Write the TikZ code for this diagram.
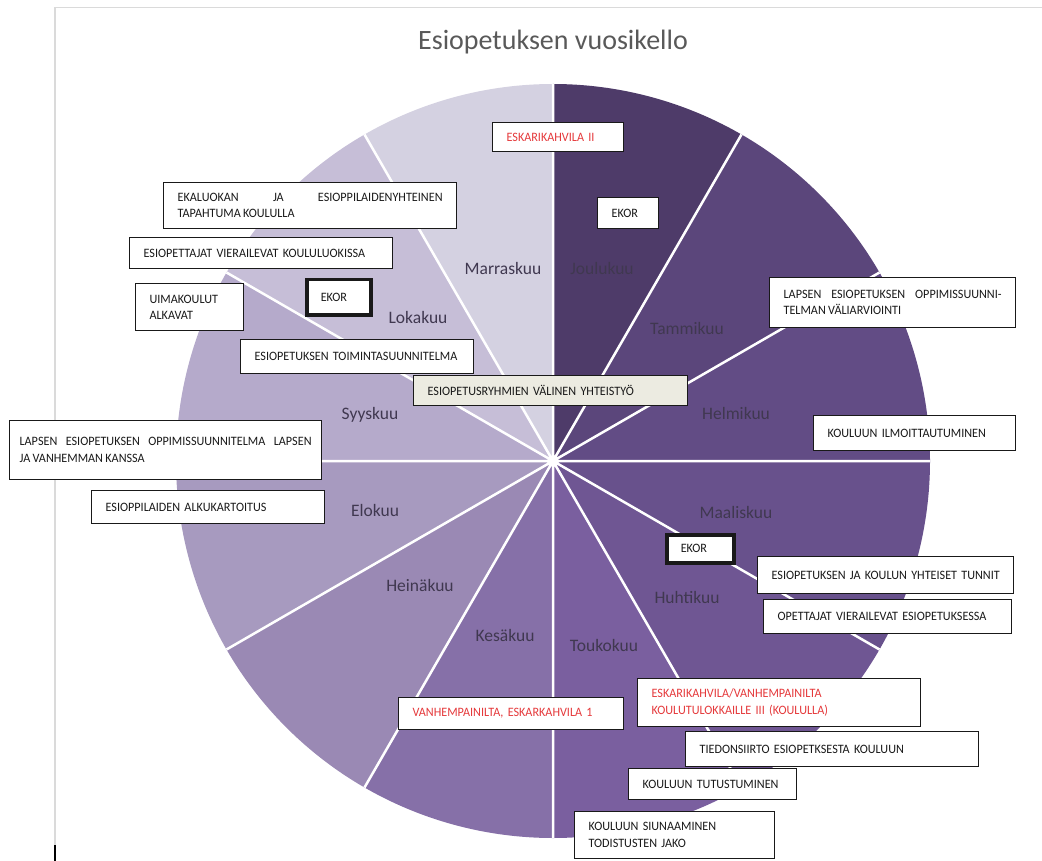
\documentclass[tikz,border=0pt]{standalone}
\usepackage{fontspec}
\setmainfont{Carlito}
\newfontfamily\laatikkofont[FakeStretch=0.95, WordSpace=0.85]{Carlito}

\definecolor{joulu}{HTML}{4E3B69}
\definecolor{tammi}{HTML}{5B467B}
\definecolor{helmi}{HTML}{624C85}
\definecolor{maalis}{HTML}{68518C}
\definecolor{huhti}{HTML}{6F5693}
\definecolor{touko}{HTML}{7A5F9F}
\definecolor{kesa}{HTML}{8670A8}
\definecolor{heina}{HTML}{9A89B4}
\definecolor{elo}{HTML}{A79ABF}
\definecolor{syys}{HTML}{B5AACB}
\definecolor{loka}{HTML}{C6BED7}
\definecolor{marras}{HTML}{D4D1E1}
\definecolor{teksti}{HTML}{403850}
\definecolor{otsikkovari}{HTML}{595959}
\definecolor{punainen}{HTML}{E5393B}
\definecolor{beige}{HTML}{ECEBE1}
\definecolor{kehys}{HTML}{DADADA}

\begin{document}
\begin{tikzpicture}[x=1pt, y=-1pt,
    kuukausi/.style={font=\fontsize{17.5}{20}\selectfont, text=teksti},
    laatikko/.style={draw=black!90, line width=1.2pt, fill=white, anchor=north west,
        inner xsep=14pt, inner ysep=0pt, align=left, text=black!90,
        font=\laatikkofont\fontsize{12.8}{16.5}\selectfont},
    tasattu/.style={align=justify},
    paksu/.style={line width=3.5pt},
    punainen/.style={text=punainen}]

    \useasboundingbox (0,0) rectangle (1042,861);

    % Taustakehys
    \draw[kehys, line width=1.5pt] (1042,7.5) -- (55,7.5) -- (55,861);
    \draw[black, line width=1.2pt] (55,845) -- (55,861);

    % Otsikko
    \node[font=\fontsize{28}{32}\selectfont, text=otsikkovari] (otsikko) at (553,42) {Esiopetuksen vuosikello};

    % Kuukausisektorit (keskipiste 553,461 ja sade 377)
    \begin{scope}[shift={(553,461)}, yscale=-1]
        \fill[joulu]  (0,0) -- (60:377)  arc[start angle=60,  end angle=90,  radius=377] -- cycle;
        \fill[tammi]  (0,0) -- (30:377)  arc[start angle=30,  end angle=60,  radius=377] -- cycle;
        \fill[helmi]  (0,0) -- (0:377)   arc[start angle=0,   end angle=30,  radius=377] -- cycle;
        \fill[maalis] (0,0) -- (-30:377) arc[start angle=-30, end angle=0,   radius=377] -- cycle;
        \fill[huhti]  (0,0) -- (-60:377) arc[start angle=-60, end angle=-30, radius=377] -- cycle;
        \fill[touko]  (0,0) -- (-90:377) arc[start angle=-90, end angle=-60, radius=377] -- cycle;
        \fill[kesa]   (0,0) -- (240:377) arc[start angle=240, end angle=270, radius=377] -- cycle;
        \fill[heina]  (0,0) -- (210:377) arc[start angle=210, end angle=240, radius=377] -- cycle;
        \fill[elo]    (0,0) -- (180:377) arc[start angle=180, end angle=210, radius=377] -- cycle;
        \fill[syys]   (0,0) -- (150:377) arc[start angle=150, end angle=180, radius=377] -- cycle;
        \fill[loka]   (0,0) -- (120:377) arc[start angle=120, end angle=150, radius=377] -- cycle;
        \fill[marras] (0,0) -- (90:377)  arc[start angle=90,  end angle=120, radius=377] -- cycle;

        % Valkoiset erotinviivat
        \draw[white, line width=2.5pt]
            (0:377) -- (180:377)  (30:377) -- (210:377)  (60:377) -- (240:377)
            (90:377) -- (270:377) (120:377) -- (300:377) (150:377) -- (330:377);
    \end{scope}

    % Kuukausien nimet
    \node[kuukausi] (marraskuu) at (503,268) {Marraskuu};
    \node[kuukausi] (joulukuu)  at (602,268) {Joulukuu};
    \node[kuukausi] (tammikuu)  at (687,328) {Tammikuu};
    \node[kuukausi] (helmikuu)  at (736,413) {Helmikuu};
    \node[kuukausi] (maaliskuu) at (736,512) {Maaliskuu};
    \node[kuukausi] (huhtikuu)  at (687,597) {Huhtikuu};
    \node[kuukausi] (toukokuu)  at (604,645) {Toukokuu};
    \node[kuukausi] (kesakuu)   at (505,635) {Kesäkuu};
    \node[kuukausi] (heinakuu)  at (420,585) {Heinäkuu};
    \node[kuukausi] (elokuu)    at (375,510) {Elokuu};
    \node[kuukausi] (syyskuu)   at (370,415) {Syyskuu};
    \node[kuukausi] (lokakuu)   at (418,317) {Lokakuu};

    % Tapahtumat, syksy
    \node[laatikko, punainen, text width=103, minimum height=29] (eskari2) at (492,122) {ESKARIKAHVILA II};
    \node[laatikko, text width=33, minimum height=31] (ekorjoulu) at (597,197) {EKOR};
    \node[laatikko, tasattu, text width=265, minimum height=46] (ekaluokka) at (163,182)
        {EKALUOKAN JA ESIOPPILAIDENYHTEINEN\linebreak TAPAHTUMA KOULULLA};
    \node[laatikko, text width=235, minimum height=31] (vierailu) at (129,237) {ESIOPETTAJAT VIERAILEVAT KOULULUOKISSA};
    \node[laatikko, text width=80, minimum height=47] (uimakoulu) at (135,283) {UIMAKOULUT\\ALKAVAT};
    \node[laatikko, paksu, text width=36, minimum height=35] (ekorloka) at (305,278) {EKOR};
    \node[laatikko, text width=205, minimum height=34] (toimsuun) at (240,339) {ESIOPETUKSEN TOIMINTASUUNNITELMA};
    \node[laatikko, fill=beige, text width=246, minimum height=30] (yhteistyo) at (413,375) {ESIOPETUSRYHMIEN VÄLINEN YHTEISTYÖ};
    \node[laatikko, tasattu, inner xsep=10pt, text width=292, minimum height=59] (oppsuun) at (9,420)
        {LAPSEN ESIOPETUKSEN OPPIMISSUUNNITELMA LAPSEN\linebreak JA VANHEMMAN KANSSA};
    \node[laatikko, text width=205, minimum height=33] (alkukart) at (91,490) {ESIOPPILAIDEN ALKUKARTOITUS};

    % Tapahtumat, kevät
    \node[laatikko, tasattu, text width=218, minimum height=50] (valiarvio) at (769,277)
        {LAPSEN ESIOPETUKSEN OPPIMISSUUNNI-\linebreak TELMAN VÄLIARVIOINTI};
    \node[laatikko, text width=174, minimum height=35] (ilmoitt) at (813,415) {KOULUUN ILMOITTAUTUMINEN};
    \node[laatikko, paksu, text width=39, minimum height=28] (ekormaalis) at (665,533) {EKOR};
    \node[laatikko, text width=228, minimum height=37] (yhttunnit) at (757,556) {\mbox{ESIOPETUKSEN JA KOULUN YHTEISET TUNNIT}};
    \node[laatikko, text width=220, minimum height=34] (opevier) at (763,599) {OPETTAJAT VIERAILEVAT ESIOPETUKSESSA};
    \node[laatikko, punainen, text width=197, minimum height=32] (vanhilta) at (398,697) {VANHEMPAINILTA, ESKARKAHVILA 1};
    \node[laatikko, punainen, text width=255, minimum height=48] (eskari3) at (637,678)
        {ESKARIKAHVILA/VANHEMPAINILTA\\KOULUTULOKKAILLE III (KOULULLA)};
    \node[laatikko, text width=265, minimum height=35] (tiedons) at (685,731) {TIEDONSIIRTO ESIOPETKSESTA KOULUUN};
    \node[laatikko, text width=140, minimum height=31] (tutust) at (628,768) {\mbox{KOULUUN TUTUSTUMINEN}};
    \node[laatikko, text width=172, minimum height=47] (siunaus) at (574,811) {KOULUUN SIUNAAMINEN\\TODISTUSTEN JAKO};

\end{tikzpicture}
\end{document}
